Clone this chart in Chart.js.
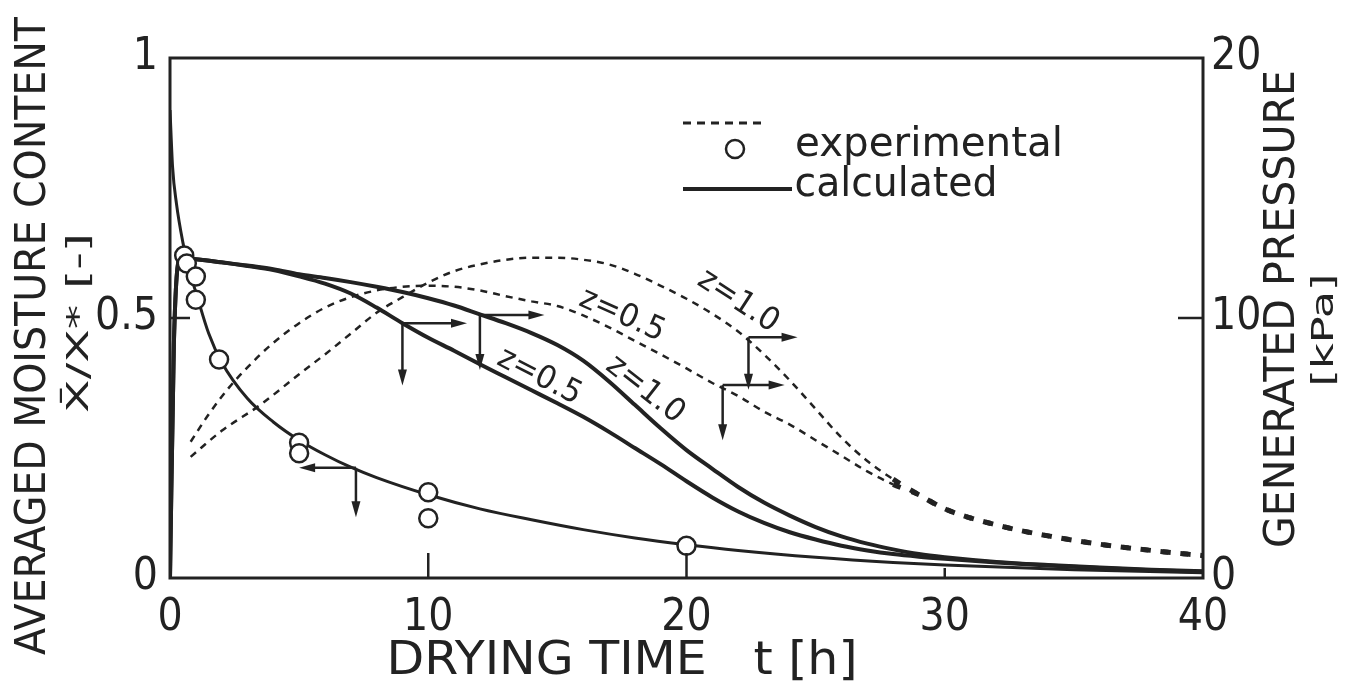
<!DOCTYPE html>
<html>
<head>
<meta charset="utf-8">
<title>Drying time - moisture content and generated pressure</title>
<script src="https://cdn.jsdelivr.net/npm/chart.js@4.4.0/dist/chart.umd.min.js"></script>
<style>
  html, body { margin: 0; padding: 0; background: #fff; }
  canvas { display: block; }
</style>
</head>
<body>
<canvas id="dryChart" width="1349" height="688"></canvas>
<script>
// ---- tick values ----
var timeTicks = [0, 10, 20, 30, 40];
var moistTicks = [0, 0.5, 1];
var pressTicks = [0, 10, 20];

// ---- averaged moisture content X/X* (left axis) ----
var tMoistCalc = [0, 0.1, 0.25, 0.5, 0.75, 1, 1.5, 2, 3, 4, 5, 6, 7, 8, 10, 12, 14, 16, 18, 20, 22, 25, 28, 30, 35, 40];
var moistCalc  = [0.9, 0.79, 0.72, 0.645, 0.59, 0.55, 0.47, 0.415, 0.345, 0.3, 0.265, 0.237, 0.213, 0.193, 0.16, 0.133, 0.112, 0.093, 0.077, 0.064, 0.053, 0.04, 0.03, 0.025, 0.016, 0.01];

var tMoistExp = [0.55, 0.65, 1.0, 1.0, 1.9, 5.0, 5.0, 10.0, 10.0, 20.0];
var moistExp  = [0.62, 0.605, 0.58, 0.535, 0.42, 0.26, 0.24, 0.165, 0.115, 0.062];

// ---- generated pressure [kPa] (right axis) ----
var tPressCalc = [0, 0.15, 0.4, 1, 2, 3, 4, 5, 6, 7, 8, 9, 10, 11, 12, 13, 14, 15, 16, 17, 18, 19, 20, 21, 22, 23, 24, 25, 26, 27, 28, 29, 30, 32, 34, 36, 38, 40];
var pressCalcZ05 = [0, 9.0, 12.3, 12.26, 12.14, 12.0, 11.84, 11.6, 11.32, 10.94, 10.4, 9.8, 9.24, 8.74, 8.22, 7.72, 7.22, 6.72, 6.2, 5.62, 5.0, 4.38, 3.72, 3.1, 2.56, 2.12, 1.76, 1.48, 1.24, 1.06, 0.92, 0.82, 0.74, 0.6, 0.48, 0.38, 0.3, 0.24];
var pressCalcZ10 = [0, 9.0, 12.3, 12.26, 12.14, 12.02, 11.88, 11.68, 11.54, 11.38, 11.2, 11.0, 10.76, 10.48, 10.14, 9.8, 9.42, 8.96, 8.36, 7.56, 6.66, 5.76, 4.92, 4.2, 3.5, 2.9, 2.4, 1.96, 1.6, 1.32, 1.1, 0.92, 0.8, 0.62, 0.5, 0.4, 0.32, 0.26];

var tPressExpZ05 = [0.8, 1.5, 2.3, 3, 3.9, 5, 6, 7, 8, 9, 10, 11, 12, 13, 14, 15, 16, 17, 18, 19, 20, 21, 22, 23, 24, 25, 26, 27, 28, 29, 30, 32, 34, 36, 38, 40];
var pressExpZ05  = [5.24, 6.3, 7.34, 8.1, 8.96, 9.8, 10.4, 10.8, 11.06, 11.2, 11.24, 11.2, 11.06, 10.84, 10.64, 10.46, 10.1, 9.64, 9.12, 8.6, 8.06, 7.5, 7.0, 6.4, 5.9, 5.3, 4.7, 4.1, 3.6, 3.2, 2.66, 2.04, 1.62, 1.3, 1.06, 0.86];

var tPressExpZ10 = [0.8, 2, 3.5, 5, 6, 7, 8, 9, 10, 11, 12, 13, 14, 15, 16, 17, 18, 19, 20, 21, 22, 23, 24, 25, 26, 27, 28, 29, 30, 32, 34, 36, 38, 40];
var pressExpZ10  = [4.66, 5.66, 6.66, 7.84, 8.6, 9.4, 10.2, 10.8, 11.36, 11.8, 12.06, 12.24, 12.32, 12.32, 12.24, 12.06, 11.7, 11.24, 10.74, 10.16, 9.48, 8.6, 7.6, 6.5, 5.4, 4.5, 3.8, 3.2, 2.66, 2.04, 1.62, 1.3, 1.06, 0.86];

// ---- annotations (time, left-axis units) ----
var axisArrows = [
  { t: 7.2,  v: 0.212, tTip: 5.0,  vTip: 0.117 },
  { t: 9.0,  v: 0.49,  tTip: 11.5, vTip: 0.37 },
  { t: 12.0, v: 0.506, tTip: 14.5, vTip: 0.40 },
  { t: 21.4, v: 0.371, tTip: 23.8, vTip: 0.265 },
  { t: 22.4, v: 0.463, tTip: 24.3, vTip: 0.362 }
];
var curveLabels = [
  { text: 'z=0.5', t: 14.3, v: 0.387, angle: 27 },
  { text: 'z=1.0', t: 18.4, v: 0.362, angle: 38 },
  { text: 'z=0.5', t: 17.5, v: 0.505, angle: 24 },
  { text: 'z=1.0', t: 22.0, v: 0.532, angle: 33 }
];

var INK = '#222';
var TICK_FONT = "'Liberation Sans Narrow', 'DejaVu Sans Condensed', 'Liberation Sans', sans-serif";
var TEXT_FONT = "'DejaVu Sans', 'Noto Sans', sans-serif";

function toPoints(xs, ys) {
  return xs.map(function (x, i) { return { x: x, y: ys[i] }; });
}

// text stretched or squeezed to a given width (the original lettering is narrow)
function drawFitText(ctx, text, cx, cy, width, angle, font) {
  ctx.save();
  ctx.translate(cx, cy);
  ctx.rotate(angle);
  ctx.font = font;
  var w = ctx.measureText(text).width;
  ctx.scale(width / w, 1);
  ctx.textAlign = 'center';
  ctx.textBaseline = 'middle';
  ctx.fillStyle = INK;
  ctx.fillText(text, 0, 0);
  ctx.restore();
}

function drawArrow(ctx, x1, y1, x2, y2) {
  var a = Math.atan2(y2 - y1, x2 - x1);
  var len = 16, half = 4.5;
  ctx.beginPath();
  ctx.moveTo(x1, y1);
  ctx.lineTo(x2 - Math.cos(a) * len * 0.6, y2 - Math.sin(a) * len * 0.6);
  ctx.stroke();
  ctx.beginPath();
  ctx.moveTo(x2, y2);
  ctx.lineTo(x2 - Math.cos(a) * len - Math.sin(a) * half, y2 - Math.sin(a) * len + Math.cos(a) * half);
  ctx.lineTo(x2 - Math.cos(a) * len + Math.sin(a) * half, y2 - Math.sin(a) * len - Math.cos(a) * half);
  ctx.closePath();
  ctx.fill();
}

// frame, inner ticks, arrows, curve labels, legend and axis titles
var figureDecor = {
  id: 'figureDecor',
  afterDraw: function (chart) {
    var ctx = chart.ctx;
    var area = chart.chartArea;
    var sx = chart.scales.x, sy = chart.scales.y, sp = chart.scales.y2;

    ctx.save();
    ctx.strokeStyle = INK;
    ctx.fillStyle = INK;
    ctx.lineWidth = 3;
    ctx.strokeRect(area.left, area.top, area.right - area.left, area.bottom - area.top);

    // inner tick marks
    ctx.lineWidth = 2.5;
    var xTickLen = { 10: 25, 20: 25, 30: 10 };
    timeTicks.forEach(function (t) {
      if (!xTickLen[t]) return;
      var px = sx.getPixelForValue(t);
      ctx.beginPath();
      ctx.moveTo(px, area.bottom);
      ctx.lineTo(px, area.bottom - xTickLen[t]);
      ctx.stroke();
    });
    var py = sy.getPixelForValue(moistTicks[1]);
    ctx.beginPath();
    ctx.moveTo(area.left, py);
    ctx.lineTo(area.left + 20, py);
    ctx.stroke();
    py = sp.getPixelForValue(pressTicks[1]);
    ctx.beginPath();
    ctx.moveTo(area.right, py);
    ctx.lineTo(area.right - 25, py);
    ctx.stroke();

    // arrows telling which axis a curve belongs to
    ctx.lineWidth = 2.5;
    axisArrows.forEach(function (a) {
      var x0 = sx.getPixelForValue(a.t), y0 = sy.getPixelForValue(a.v);
      drawArrow(ctx, x0, y0, sx.getPixelForValue(a.tTip), y0);
      drawArrow(ctx, x0, y0, x0, sy.getPixelForValue(a.vTip));
    });

    curveLabels.forEach(function (l) {
      drawFitText(ctx, l.text, sx.getPixelForValue(l.t), sy.getPixelForValue(l.v), 90,
        l.angle * Math.PI / 180, '32px ' + TEXT_FONT);
    });

    // legend
    ctx.lineWidth = 3;
    ctx.setLineDash([8, 6]);
    ctx.beginPath();
    ctx.moveTo(683, 123);
    ctx.lineTo(766, 123);
    ctx.stroke();
    ctx.setLineDash([]);
    ctx.lineWidth = 2.5;
    ctx.beginPath();
    ctx.arc(735, 149, 9, 0, Math.PI * 2);
    ctx.stroke();
    ctx.lineWidth = 4;
    ctx.beginPath();
    ctx.moveTo(683, 189);
    ctx.lineTo(792, 189);
    ctx.stroke();
    drawFitText(ctx, 'experimental', 929, 146, 268, 0, '40px ' + TEXT_FONT);
    drawFitText(ctx, 'calculated', 896, 186, 203, 0, '40px ' + TEXT_FONT);

    // axis titles
    var up = -Math.PI / 2;
    drawFitText(ctx, 'AVERAGED MOISTURE CONTENT', 34, 336, 638, up, '43px ' + TEXT_FONT);
    drawFitText(ctx, 'X\u0304/X* [-]', 80, 323, 180, up, '30px ' + TEXT_FONT);
    drawFitText(ctx, 'GENERATED PRESSURE', 1283, 309, 478, up, '42px ' + TEXT_FONT);
    drawFitText(ctx, '[kPa]', 1325, 330, 113, up, '30px ' + TEXT_FONT);
    drawFitText(ctx, 'DRYING TIME   t [h]', 622, 662, 471, 0, '46px ' + TICK_FONT);
    ctx.restore();
  }
};

function fixedTicks(values) {
  return function (scale) {
    scale.ticks = values.map(function (v) { return { value: v }; });
  };
}

function plainLabel(value) {
  return String(value);
}

var expDash = {
  borderWidth: function (c) { return c.p0.parsed.x >= 28 ? 5 : 2.5; },
  borderDash: function (c) { return c.p0.parsed.x >= 28 ? [8, 12] : [7, 6]; }
};

var chart = new Chart(document.getElementById('dryChart'), {
  type: 'line',
  data: {
    datasets: [
      {
        label: 'experimental moisture',
        type: 'scatter',
        data: toPoints(tMoistExp, moistExp),
        yAxisID: 'y',
        pointRadius: 9,
        pointBorderWidth: 2.5,
        pointBackgroundColor: '#fff',
        pointBorderColor: INK,
        showLine: false
      },
      {
        label: 'calculated moisture',
        data: toPoints(tMoistCalc, moistCalc),
        yAxisID: 'y',
        borderColor: INK,
        borderWidth: 3,
        pointRadius: 0,
        cubicInterpolationMode: 'monotone'
      },
      {
        label: 'calculated pressure z=0.5',
        data: toPoints(tPressCalc, pressCalcZ05),
        yAxisID: 'y2',
        borderColor: INK,
        borderWidth: 4,
        pointRadius: 0,
        cubicInterpolationMode: 'monotone'
      },
      {
        label: 'calculated pressure z=1.0',
        data: toPoints(tPressCalc, pressCalcZ10),
        yAxisID: 'y2',
        borderColor: INK,
        borderWidth: 4,
        pointRadius: 0,
        cubicInterpolationMode: 'monotone'
      },
      {
        label: 'experimental pressure z=0.5',
        data: toPoints(tPressExpZ05, pressExpZ05),
        yAxisID: 'y2',
        borderColor: INK,
        borderWidth: 2.5,
        borderDash: [7, 6],
        segment: expDash,
        pointRadius: 0,
        cubicInterpolationMode: 'monotone'
      },
      {
        label: 'experimental pressure z=1.0',
        data: toPoints(tPressExpZ10, pressExpZ10),
        yAxisID: 'y2',
        borderColor: INK,
        borderWidth: 2.5,
        borderDash: [7, 6],
        segment: expDash,
        pointRadius: 0,
        cubicInterpolationMode: 'monotone'
      }
    ]
  },
  options: {
    responsive: false,
    animation: false,
    layout: { padding: { top: 58, left: 0, right: 0, bottom: 0 } },
    plugins: {
      legend: { display: false },
      tooltip: { enabled: false }
    },
    scales: {
      x: {
        type: 'linear',
        min: 0,
        max: 40,
        afterBuildTicks: fixedTicks(timeTicks),
        afterFit: function (scale) { scale.height = 110; },
        grid: { display: false, drawTicks: false },
        border: { display: false },
        ticks: { color: INK, padding: 14, callback: plainLabel, font: { family: TICK_FONT, size: 44 } }
      },
      y: {
        position: 'left',
        min: 0,
        max: 1,
        afterBuildTicks: fixedTicks(moistTicks),
        afterFit: function (scale) { scale.width = 170; },
        grid: { display: false, drawTicks: false },
        border: { display: false },
        ticks: { color: INK, padding: 12, callback: plainLabel, font: { family: TICK_FONT, size: 44 } }
      },
      y2: {
        position: 'right',
        min: 0,
        max: 20,
        afterBuildTicks: fixedTicks(pressTicks),
        afterFit: function (scale) { scale.width = 146; },
        grid: { display: false, drawTicks: false },
        border: { display: false },
        ticks: { color: INK, padding: 8, callback: plainLabel, font: { family: TICK_FONT, size: 44 } }
      }
    }
  },
  plugins: [figureDecor]
});
</script>
</body>
</html>
